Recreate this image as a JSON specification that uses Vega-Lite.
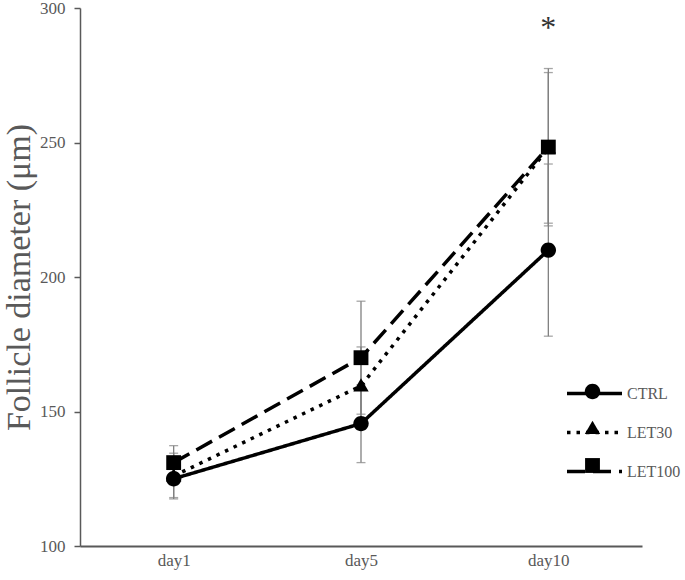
{
  "$schema": "https://vega.github.io/schema/vega-lite/v6.json",
  "width": 562,
  "height": 538,
  "autosize": {"type": "none"},
  "padding": {"left": 80, "top": 8, "right": 43, "bottom": 34},
  "background": "white",
  "config": {"view": {"stroke": null}, "font": "Liberation Serif"},
  "data": {
    "values": [
      {"group": "CTRL", "day": "day1", "mean": 125, "lo": 118, "hi": 132},
      {"group": "CTRL", "day": "day5", "mean": 145.5, "lo": 131, "hi": 160},
      {"group": "CTRL", "day": "day10", "mean": 210, "lo": 178, "hi": 242},
      {"group": "LET30", "day": "day1", "mean": 126, "lo": 117.5, "hi": 134.5},
      {"group": "LET30", "day": "day5", "mean": 159.5, "lo": 145, "hi": 174},
      {"group": "LET30", "day": "day10", "mean": 248, "lo": 220, "hi": 276},
      {"group": "LET100", "day": "day1", "mean": 131, "lo": 124.7, "hi": 137.3},
      {"group": "LET100", "day": "day5", "mean": 170, "lo": 149, "hi": 191},
      {"group": "LET100", "day": "day10", "mean": 248.3, "lo": 219, "hi": 277.5}
    ]
  },
  "encoding": {
    "x": {
      "field": "day", "type": "ordinal", "sort": ["day1", "day5", "day10"],
      "scale": {"type": "point", "padding": 0.5},
      "axis": {"title": null, "labelAngle": 0, "ticks": false, "domainColor": "#595959", "domainWidth": 2,
               "labelFont": "Liberation Serif", "labelFontSize": 17, "labelColor": "#595959", "labelPadding": 6}
    }
  },
  "layer": [
    {
      "mark": {"type": "rule", "color": "#808080", "strokeWidth": 1.3},
      "encoding": {
        "y": {"field": "lo", "type": "quantitative", "scale": {"domain": [100, 300], "nice": false, "zero": false}},
        "y2": {"field": "hi"}
      }
    },
    {
      "mark": {"type": "tick", "color": "#808080", "thickness": 1.3, "size": 9},
      "encoding": {"y": {"field": "lo", "type": "quantitative", "scale": {"domain": [100, 300], "nice": false, "zero": false}}}
    },
    {
      "mark": {"type": "tick", "color": "#808080", "thickness": 1.3, "size": 9},
      "encoding": {"y": {"field": "hi", "type": "quantitative", "scale": {"domain": [100, 300], "nice": false, "zero": false}}}
    },
    {
      "mark": {"type": "line", "color": "black", "strokeWidth": 3.5, "strokeCap": "butt"},
      "encoding": {
        "y": {"field": "mean", "type": "quantitative",
              "scale": {"domain": [100, 300], "nice": false, "zero": false},
              "axis": {"title": "Follicle diameter (μm)", "values": [100, 150, 200, 250, 300], "grid": false,
                       "domainColor": "#595959", "domainWidth": 1.5, "tickColor": "#595959", "tickSize": 6, "tickWidth": 1.5,
                       "labelFont": "Liberation Serif", "labelFontSize": 17, "labelColor": "#595959", "labelPadding": 9,
                       "titleFont": "Liberation Serif", "titleFontSize": 34, "titleFontWeight": "normal", "titleColor": "#595959", "titlePadding": 3}},
        "detail": {"field": "group"},
        "strokeDash": {"field": "group", "type": "nominal",
                       "scale": {"domain": ["CTRL", "LET30", "LET100"], "range": [[1, 0], [3.5, 6], [18, 8]]},
                       "legend": {
                         "title": null, "orient": "none", "legendX": 485, "legendY": 356, "padding": 0,
                         "symbolType": "M-1,0L1,0", "symbolSize": 3025, "symbolStrokeColor": "black", "symbolStrokeWidth": 3.5,
                         "symbolFillColor": "transparent", "symbolOpacity": 1,
                         "labelFont": "Liberation Serif", "labelFontSize": 16, "labelColor": "#595959",
                         "labelOffset": 3, "rowPadding": 1
                       }}
      }
    },
    {
      "mark": {"type": "point", "filled": true, "color": "black", "opacity": 1, "size": 3025, "strokeWidth": 0},
      "encoding": {
        "y": {"field": "mean", "type": "quantitative", "scale": {"domain": [100, 300], "nice": false, "zero": false}},
        "shape": {"field": "group", "type": "nominal", "sort": ["CTRL", "LET30", "LET100"],
                  "scale": {"range": [
                    "M0.28,0A0.28,0.28,0,1,1,-0.28,0A0.28,0.28,0,1,1,0.28,0Z",
                    "M0,-0.28L0.28,0.2L-0.28,0.2Z",
                    "M-0.27,-0.27L0.27,-0.27L0.27,0.27L-0.27,0.27Z"]},
                  "legend": {
                    "title": null, "orient": "none", "legendX": 485, "legendY": 356, "padding": 0,
                    "symbolSize": 3025, "symbolFillColor": "black", "symbolStrokeWidth": 0, "symbolOpacity": 1,
                    "labelFont": "Liberation Serif", "labelFontSize": 16, "labelColor": "#595959", "labelOpacity": 0,
                    "labelOffset": 3, "rowPadding": 1
                  }}
      }
    },
    {
      "data": {"values": [{"day": "day10", "y": 289, "label": "*"}]},
      "mark": {"type": "text", "font": "Liberation Serif", "fontSize": 32, "color": "#333333", "baseline": "alphabetic"},
      "encoding": {
        "y": {"field": "y", "type": "quantitative", "scale": {"domain": [100, 300], "nice": false, "zero": false}},
        "text": {"field": "label"}
      }
    }
  ]
}
